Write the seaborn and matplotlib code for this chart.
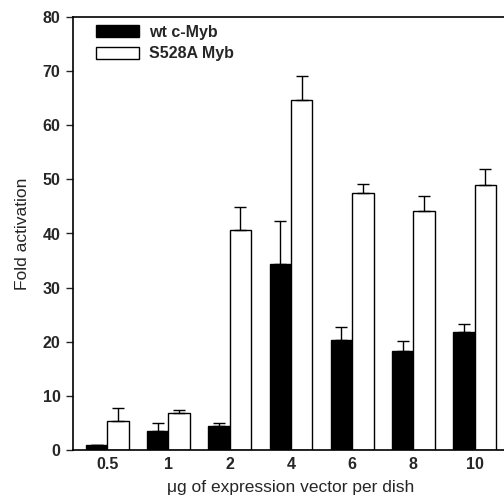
import numpy as np
import pandas as pd
import matplotlib
matplotlib.use("Agg")
import matplotlib.pyplot as plt
from matplotlib.patches import Patch
import seaborn as sns

# values
doses = ["0.5", "1", "2", "4", "6", "8", "10"]
constructs = ["wt c-Myb", "S528A Myb"]
wt_mean = [1.0, 3.6, 4.4, 34.4, 20.3, 18.3, 21.8]
wt_err = [0.0, 1.4, 0.6, 8.0, 2.4, 1.9, 1.5]
mut_mean = [5.4, 6.8, 40.7, 64.7, 47.4, 44.1, 48.9]
mut_err = [2.3, 0.5, 4.2, 4.4, 1.8, 2.8, 3.1]

df = pd.DataFrame({
    "dose": doses * 2,
    "construct": [constructs[0]] * len(doses) + [constructs[1]] * len(doses),
    "fold": wt_mean + mut_mean,
})

sns.set_style("ticks")
plt.rcParams["font.family"] = ["Liberation Sans", "DejaVu Sans"]

fig = plt.figure(figsize=(5.04, 5.0), dpi=100)
ax = fig.add_axes([0.1448, 0.1, 0.865, 0.866])

sns.barplot(data=df, x="dose", y="fold", hue="construct", order=doses,
            hue_order=constructs, palette=["black", "white"],
            edgecolor="black", linewidth=1.0, width=0.7, errorbar=None,
            legend=False, ax=ax)

bars = list(ax.containers)
for cont, errs in zip(bars, [wt_err, mut_err]):
    xs = [p.get_x() + p.get_width() / 2 for p in cont]
    ys = [p.get_height() for p in cont]
    ax.errorbar(xs, ys, yerr=[np.zeros(len(errs)), errs], fmt="none",
                ecolor="black", elinewidth=1.0, capsize=4.5, capthick=1.0)

ax.set_xlim(-0.56, 6.56)
ax.set_ylim(0, 80)
ax.set_yticks(range(0, 81, 10))
ax.set_xlabel("μg of expression vector per dish", fontsize=12.5, labelpad=6)
ax.set_ylabel("Fold activation", fontsize=12.5, labelpad=9)
ax.tick_params(axis="y", direction="out", length=5, width=1.0, labelsize=11.5, pad=4)
ax.tick_params(axis="x", length=0, labelsize=11.5, pad=5)
for lab in ax.get_xticklabels() + ax.get_yticklabels():
    lab.set_fontweight("bold")
for s in ax.spines.values():
    s.set_linewidth(1.2)
    s.set_color("black")

handles = [Patch(facecolor="black", edgecolor="black", label=constructs[0]),
           Patch(facecolor="white", edgecolor="black", label=constructs[1])]
leg = ax.legend(handles=handles, loc="upper left", bbox_to_anchor=(0.02, 1.015),
                frameon=False, fontsize=11.5, handlelength=2.7, handleheight=0.8,
                handletextpad=0.6, labelspacing=0.4)
for t in leg.get_texts():
    t.set_fontweight("bold")

fig.savefig("out.png", dpi=100)
